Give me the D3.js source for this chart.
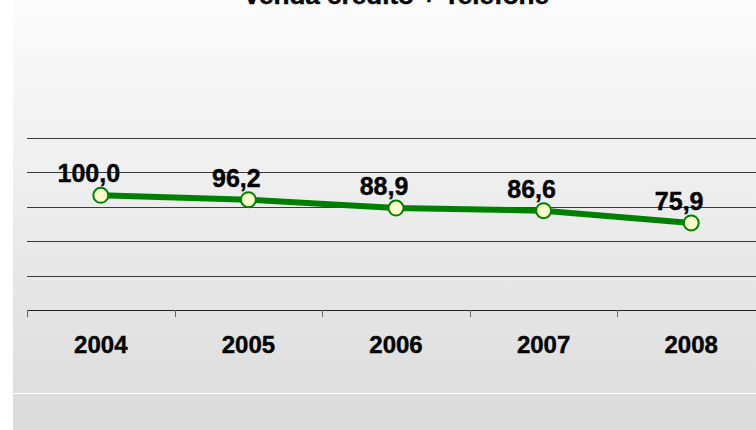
<!DOCTYPE html>
<html>
<head>
<meta charset="utf-8">
<script src="https://cdn.jsdelivr.net/npm/d3@7"></script>
<style>
  body { margin: 0; background: #fff; }
  text { font-family: "Liberation Sans", Arial, sans-serif; font-weight: bold; fill: #000; }
</style>
</head>
<body>
<div class="chart"></div>
<script>
const title = "Venda crédito + Telefone";
const years = ["2004", "2005", "2006", "2007", "2008"];
const values = [100.0, 96.2, 88.9, 86.6, 75.9];
const gridTicks = [30, 60, 90, 120, 150];

const width = 756, height = 430;

const svg = d3.select(".chart").append("svg")
    .attr("width", width)
    .attr("height", height);

//background gradient
const defs = svg.append("defs");
const grad = defs.append("linearGradient")
    .attr("id", "bg")
    .attr("x1", 0).attr("y1", 0).attr("x2", 0).attr("y2", 1);
grad.append("stop").attr("offset", "0%").attr("stop-color", "#fcfcfc");
grad.append("stop").attr("offset", "100%").attr("stop-color", "#dedede");

svg.append("rect").attr("width", width).attr("height", height).attr("fill", "#fff");
svg.append("rect")
    .attr("x", 13).attr("y", 0)
    .attr("width", width - 13).attr("height", 393)
    .attr("fill", "url(#bg)");
svg.append("rect")
    .attr("x", 13).attr("y", 394)
    .attr("width", width - 13).attr("height", height - 394)
    .attr("fill", "#dcdcdc");

//title, mostly cut off at the top
svg.append("text")
    .attr("x", 396)
    .attr("y", 4)
    .attr("text-anchor", "middle")
    .attr("font-size", 24)
    .attr("textLength", 306)
    .attr("lengthAdjust", "spacingAndGlyphs")
    .attr("stroke", "#000").attr("stroke-width", 0.4)
    .text(title);

//scales
const x = d3.scaleBand()
    .domain(years)
    .range([27, 765])
    .padding(0);

const y = d3.scaleLinear()
    .domain([0, 150])
    .range([310, 138]);

//gridlines
svg.append("g")
    .attr("class", "grid")
    .attr("transform", "translate(27,0)")
    .call(d3.axisLeft(y).tickValues(gridTicks).tickSize(-(width - 27)).tickFormat(""))
    .call(g => g.select(".domain").remove())
    .call(g => g.selectAll("line").attr("stroke", "#3a3a3a").attr("shape-rendering", "crispEdges"));

//x axis
const xAxis = svg.append("g")
    .attr("transform", "translate(0," + y(0) + ")")
    .call(d3.axisBottom(x).tickSize(0).tickPadding(26))
    .call(g => g.select(".domain").attr("stroke", "#222").attr("d", "M27,0.5H" + width))
    .call(g => g.selectAll("text")
        .attr("font-size", 24).attr("font-family", null)
        .attr("stroke", "#000").attr("stroke-width", 0.4));

xAxis.selectAll(".bound")
    .data(years.concat(["end"]))
    .enter().append("line")
    .attr("class", "bound")
    .attr("x1", (d, i) => Math.round(x.range()[0] + i * x.step()) + 0.5)
    .attr("x2", (d, i) => Math.round(x.range()[0] + i * x.step()) + 0.5)
    .attr("y1", 0)
    .attr("y2", 7)
    .attr("stroke", "#666");

//line
const pts = years.map((d, i) => ({ year: d, value: values[i] }));
const cx = d => x(d.year) + x.bandwidth() / 2;

svg.append("path")
    .datum(pts)
    .attr("fill", "none")
    .attr("stroke", "#008000")
    .attr("stroke-width", 6)
    .attr("d", d3.line().x(cx).y(d => y(d.value)));

svg.selectAll(".pt")
    .data(pts)
    .enter().append("circle")
    .attr("class", "pt")
    .attr("cx", cx)
    .attr("cy", d => y(d.value))
    .attr("r", 7.5)
    .attr("fill", "#ffffcc")
    .attr("stroke", "#008000")
    .attr("stroke-width", 2);

//data labels
svg.selectAll(".lbl")
    .data(pts)
    .enter().append("text")
    .attr("class", "lbl")
    .attr("x", d => cx(d) - 12)
    .attr("y", d => y(d.value) - 13)
    .attr("text-anchor", "middle")
    .attr("font-size", 25)
    .attr("stroke", "#000").attr("stroke-width", 0.4)
    .text(d => d3.format(".1f")(d.value).replace(".", ","));
</script>
</body>
</html>
